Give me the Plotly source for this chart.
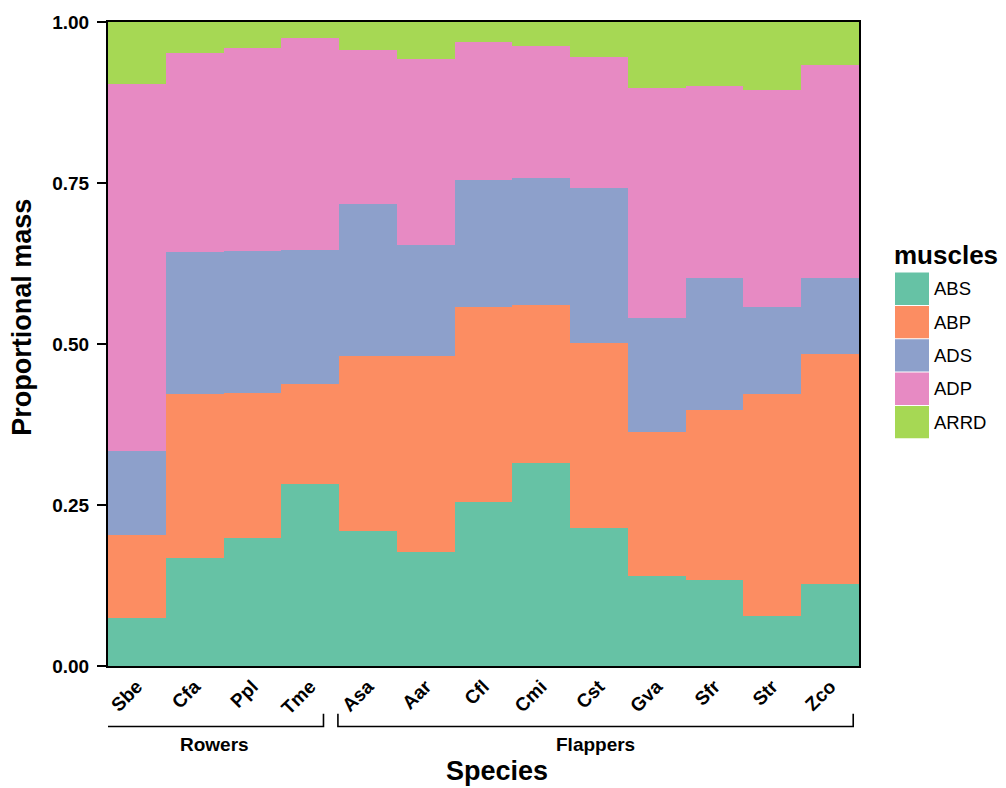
import plotly.graph_objects as go

species = ["Sbe", "Cfa", "Ppl", "Tme", "Asa", "Aar", "Cfl", "Cmi", "Cst", "Gva", "Sfr", "Str", "Zco"]
muscles = ["ABS", "ABP", "ADS", "ADP", "ARRD"]
colors = ["#66C2A5", "#FC8D62", "#8DA0CB", "#E78AC3", "#A6D854"]

ABS = [0.075, 0.167, 0.199, 0.283, 0.209, 0.177, 0.254, 0.315, 0.215, 0.140, 0.133, 0.078, 0.127]
ABP = [0.129, 0.256, 0.225, 0.155, 0.273, 0.305, 0.304, 0.246, 0.286, 0.224, 0.264, 0.345, 0.357]
ADS = [0.130, 0.220, 0.221, 0.208, 0.236, 0.171, 0.197, 0.197, 0.241, 0.177, 0.205, 0.135, 0.119]
ADP = [0.569, 0.309, 0.314, 0.329, 0.238, 0.289, 0.214, 0.205, 0.204, 0.357, 0.298, 0.337, 0.330]
ARRD = [0.097, 0.048, 0.041, 0.025, 0.044, 0.058, 0.031, 0.037, 0.054, 0.102, 0.100, 0.105, 0.067]
series = [ABS, ABP, ADS, ADP, ARRD]

groups = ["Rowers", "Flappers"]
group_members = [["Sbe", "Cfa", "Ppl", "Tme"],
                 ["Asa", "Aar", "Cfl", "Cmi", "Cst", "Gva", "Sfr", "Str", "Zco"]]

yticks = [0, 0.25, 0.5, 0.75, 1.0]

FONT = "Liberation Sans, Arial, sans-serif"

W, H = 1006, 788
L, R, T, B = 108, 147, 17, 122
PW, PH = W - L - R, H - T - B


def px(x):
    return (x - L) / PW


def py(y):
    return (H - B - y) / PH


fig = go.Figure()
xs = list(range(len(species)))
for name, vals, col in zip(muscles, series, colors):
    fig.add_trace(go.Bar(x=xs, y=vals, name=name, marker=dict(color=col, line=dict(width=0)),
                         showlegend=False))

shapes = []
annotations = []

# group brackets
bracket_spans = [(-0.53, 3.23), (3.48, 12.4)]
for g, (x0, x1) in zip(groups, bracket_spans):
    ytop, ybot = py(714), py(727)
    shapes.append(dict(type="path", xref="x", yref="paper",
                       path=f"M {x0},{ytop} L {x0},{ybot} L {x1},{ybot} L {x1},{ytop}",
                       line=dict(color="black", width=1.6)))
    annotations.append(dict(x=(x0 + x1) / 2, y=py(745), xref="x", yref="paper",
                            text=f"<b>{g}</b>",
                            showarrow=False, font=dict(family=FONT, size=19, color="black"),
                            xanchor="center", yanchor="middle"))

# axis titles
annotations.append(dict(x=px(497), y=py(772), xref="paper", yref="paper", text="<b>Species</b>",
                        showarrow=False, font=dict(family=FONT, size=27, color="black"),
                        xanchor="center", yanchor="middle"))
annotations.append(dict(x=px(22), y=py(315), xref="paper", yref="paper", text="<b>Proportional mass</b>",
                        showarrow=False, textangle=-90, font=dict(family=FONT, size=27, color="black"),
                        xanchor="center", yanchor="middle"))

# legend
annotations.append(dict(x=px(892), y=py(252), xref="paper", yref="paper", text="<b>muscles</b>",
                        showarrow=False, font=dict(family=FONT, size=26, color="black"),
                        xanchor="left", yanchor="middle"))
sw_top, sw_h = 269, 33.6
for i, (name, col) in enumerate(zip(muscles, colors)):
    y0 = sw_top + i * sw_h
    shapes.append(dict(type="rect", xref="paper", yref="paper", x0=px(895), x1=px(929),
                       y0=py(y0 + 0.5), y1=py(y0 + sw_h - 0.5), fillcolor=col, line=dict(width=0)))
    annotations.append(dict(x=px(932), y=py(y0 + sw_h / 2), xref="paper", yref="paper", text=name,
                            showarrow=False, font=dict(family=FONT, size=18.5, color="black"),
                            xanchor="left", yanchor="middle"))

fig.update_layout(
    width=W, height=H, margin=dict(l=L, r=R, t=T, b=B),
    barmode="stack", bargap=0,
    plot_bgcolor="white", paper_bgcolor="white",
    shapes=shapes, annotations=annotations,
    showlegend=False,
    xaxis=dict(range=[-0.5, len(species) - 0.5], tickvals=xs,
               ticktext=[f"<b>{s}</b>" for s in species], tickangle=-45,
               tickfont=dict(family=FONT, size=19, color="black"),
               showline=True, mirror=True, linecolor="black", linewidth=2,
               ticks="", showgrid=False, zeroline=False, fixedrange=True),
    yaxis=dict(range=[0, 1], tickvals=yticks, ticktext=[f"<b>{v:.2f}</b>" for v in yticks],
               tickfont=dict(family=FONT, size=19, color="black"),
               ticks="outside", ticklen=9, tickwidth=1.5, tickcolor="black",
               ticklabelstandoff=4,
               showline=True, mirror=True, linecolor="black", linewidth=2,
               showgrid=False, zeroline=False, fixedrange=True),
)

fig.write_html("out.html", config={"displayModeBar": False},
               post_script="document.body.style.margin='0px';document.body.style.overflow='hidden';")
